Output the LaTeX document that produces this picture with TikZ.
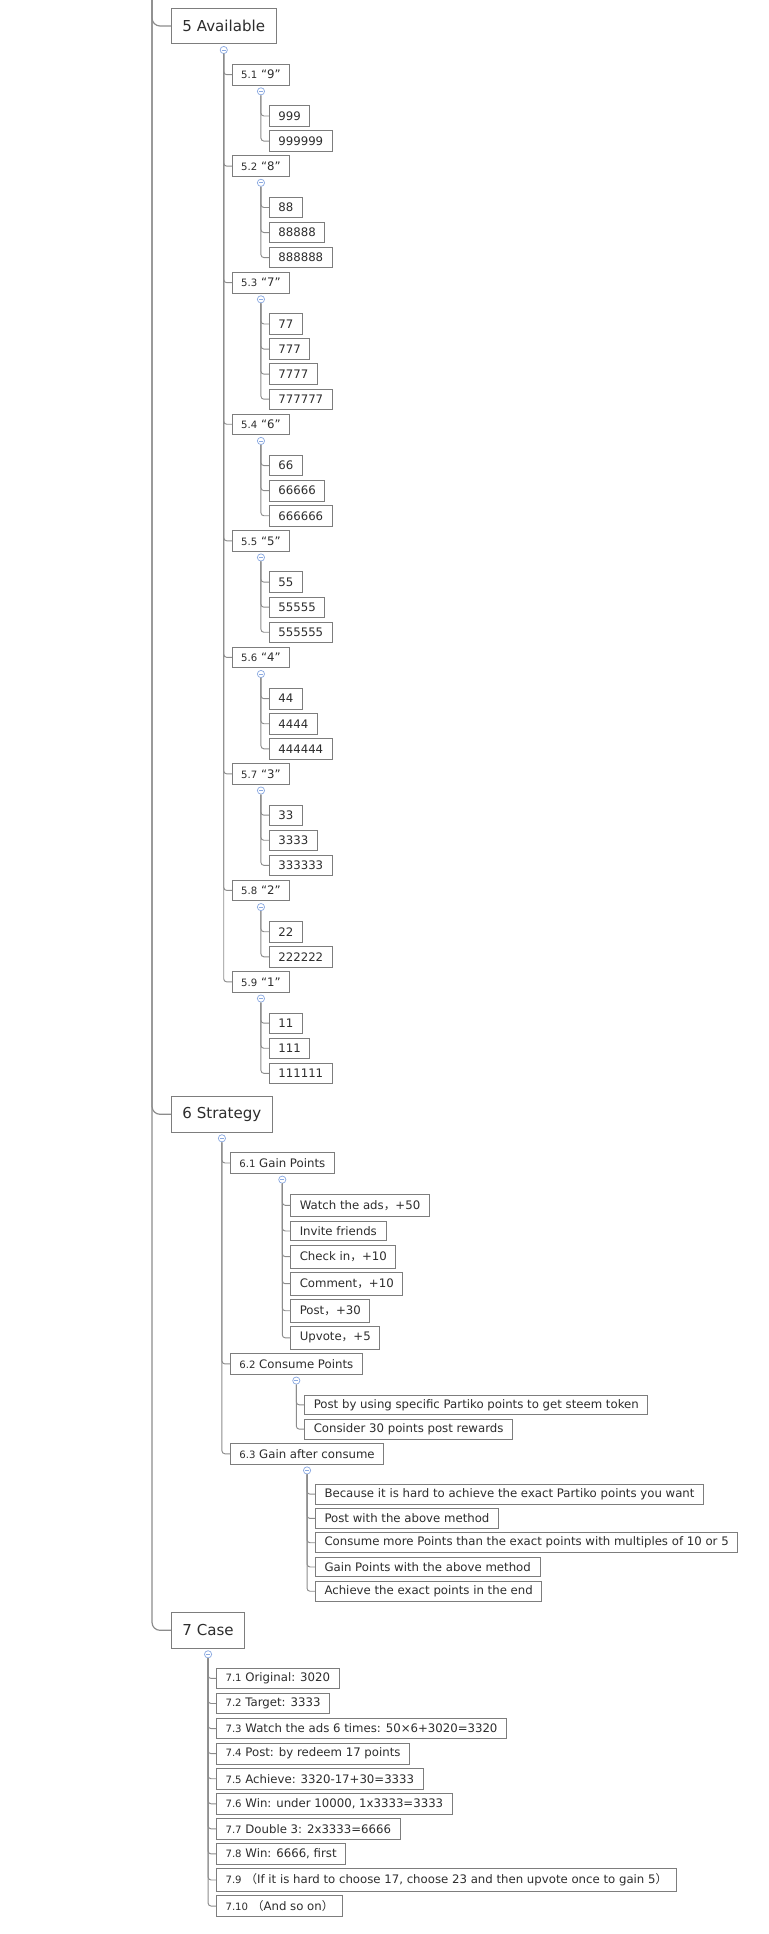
\documentclass[tikz,border=0pt]{standalone}
\usepackage{fontspec}
\setmainfont{DejaVu Sans}
\newfontfamily\cjk{Noto Sans CJK SC}
\usetikzlibrary{positioning}
\definecolor{cLine}{RGB}{140,140,140}
\definecolor{cBorder}{RGB}{125,125,125}
\definecolor{cText}{RGB}{45,45,45}
\definecolor{cFold}{RGB}{140,170,225}
\newcommand{\secno}[1]{{\fontsize{7.6}{9}\selectfont #1}}
\newcommand{\zhcomma}{{\cjk ，}}
\newcommand{\zhlp}{{\cjk （}}
\newcommand{\zhrp}{{\cjk ）}}
\tikzset{
  basebox/.style={rectangle,draw=cBorder,fill=white,text=cText,line width=0.6pt},
  topic/.style={basebox,font=\fontsize{11.3}{13}\selectfont,minimum height=26.4pt,inner xsep=8.3pt},
  sub/.style={basebox,font=\fontsize{8.8}{10}\selectfont,minimum height=15.4pt,inner xsep=6.8pt,inner ysep=1pt},
  leaf/.style={sub},
  slimleaf/.style={sub,minimum height=14.8pt},
  tallleaf/.style={sub,minimum height=16.9pt},
  nextrow/.style={anchor=north west,yshift=-2.8pt},
  edge/.style={draw=cLine,line width=0.7pt,rounded corners=2.2pt},
  trunkline/.style={draw=cLine,line width=0.9pt,rounded corners=6pt},
  fold/.style={circle,draw=cFold,fill=white,line width=0.55pt,minimum size=5.4pt,inner sep=0pt,
               path picture={\draw[cFold,line width=0.5pt]
                 ([xshift=-1.4pt]path picture bounding box.center) --
                 ([xshift=1.4pt]path picture bounding box.center);}}
}
\begin{document}
\begin{tikzpicture}[x=0.75pt,y=-0.75pt]
  \useasboundingbox (0,0) rectangle (768,1934);
  \coordinate (top) at (152,-10);

  % 5 Available
  \node[topic,anchor=west] (avail) at (171,26) {5 Available};
  \node[sub,below right=15pt and 6pt of avail.south] (n51) {\secno{5.1} “9”};
  \node[leaf,below right=15pt and 6pt of n51.south] (n51a) {999};
  \node[leaf,below=2.8pt of n51a.south west,anchor=north west] (n51b) {999999};
  \node[sub,nextrow] (n52) at (n51.west |- n51b.south) {\secno{5.2} “8”};
  \node[leaf,below right=15pt and 6pt of n52.south] (n52a) {88};
  \node[leaf,below=2.8pt of n52a.south west,anchor=north west] (n52b) {88888};
  \node[leaf,below=2.8pt of n52b.south west,anchor=north west] (n52c) {888888};
  \node[sub,nextrow] (n53) at (n51.west |- n52c.south) {\secno{5.3} “7”};
  \node[leaf,below right=15pt and 6pt of n53.south] (n53a) {77};
  \node[leaf,below=2.8pt of n53a.south west,anchor=north west] (n53b) {777};
  \node[leaf,below=2.8pt of n53b.south west,anchor=north west] (n53c) {7777};
  \node[leaf,below=2.8pt of n53c.south west,anchor=north west] (n53d) {777777};
  \node[sub,nextrow] (n54) at (n51.west |- n53d.south) {\secno{5.4} “6”};
  \node[leaf,below right=15pt and 6pt of n54.south] (n54a) {66};
  \node[leaf,below=2.8pt of n54a.south west,anchor=north west] (n54b) {66666};
  \node[leaf,below=2.8pt of n54b.south west,anchor=north west] (n54c) {666666};
  \node[sub,nextrow] (n55) at (n51.west |- n54c.south) {\secno{5.5} “5”};
  \node[leaf,below right=15pt and 6pt of n55.south] (n55a) {55};
  \node[leaf,below=2.8pt of n55a.south west,anchor=north west] (n55b) {55555};
  \node[leaf,below=2.8pt of n55b.south west,anchor=north west] (n55c) {555555};
  \node[sub,nextrow] (n56) at (n51.west |- n55c.south) {\secno{5.6} “4”};
  \node[leaf,below right=15pt and 6pt of n56.south] (n56a) {44};
  \node[leaf,below=2.8pt of n56a.south west,anchor=north west] (n56b) {4444};
  \node[leaf,below=2.8pt of n56b.south west,anchor=north west] (n56c) {444444};
  \node[sub,nextrow] (n57) at (n51.west |- n56c.south) {\secno{5.7} “3”};
  \node[leaf,below right=15pt and 6pt of n57.south] (n57a) {33};
  \node[leaf,below=2.8pt of n57a.south west,anchor=north west] (n57b) {3333};
  \node[leaf,below=2.8pt of n57b.south west,anchor=north west] (n57c) {333333};
  \node[sub,nextrow] (n58) at (n51.west |- n57c.south) {\secno{5.8} “2”};
  \node[leaf,below right=15pt and 6pt of n58.south] (n58a) {22};
  \node[leaf,below=2.8pt of n58a.south west,anchor=north west] (n58b) {222222};
  \node[sub,nextrow] (n59) at (n51.west |- n58b.south) {\secno{5.9} “1”};
  \node[leaf,below right=15pt and 6pt of n59.south] (n59a) {11};
  \node[leaf,below=2.8pt of n59a.south west,anchor=north west] (n59b) {111};
  \node[leaf,below=2.8pt of n59b.south west,anchor=north west] (n59c) {111111};

  % 6 Strategy
  \node[topic,anchor=west] (strat) at (171,1114.3) {6 Strategy};
  \node[sub,below right=15pt and 6pt of strat.south] (n61) {\secno{6.1} Gain Points};
  \node[tallleaf,below right=15pt and 6pt of n61.south] (n61a) {Watch the ads\zhcomma+50};
  \node[slimleaf,below=2.8pt of n61a.south west,anchor=north west] (n61b) {Invite friends};
  \node[tallleaf,below=2.8pt of n61b.south west,anchor=north west] (n61c) {Check in\zhcomma+10};
  \node[tallleaf,below=2.8pt of n61c.south west,anchor=north west] (n61d) {Comment\zhcomma+10};
  \node[tallleaf,below=2.8pt of n61d.south west,anchor=north west] (n61e) {Post\zhcomma+30};
  \node[tallleaf,below=2.8pt of n61e.south west,anchor=north west] (n61f) {Upvote\zhcomma+5};
  \node[sub,nextrow] (n62) at (n61.west |- n61f.south) {\secno{6.2} Consume Points};
  \node[slimleaf,below right=15pt and 6pt of n62.south] (n62a)
      {Post by using specific Partiko points to get steem token};
  \node[slimleaf,below=2.8pt of n62a.south west,anchor=north west] (n62b) {Consider 30 points post rewards};
  \node[sub,nextrow] (n63) at (n61.west |- n62b.south) {\secno{6.3} Gain after consume};
  \node[slimleaf,below right=14.6pt and 6pt of n63.south] (n63a)
      {Because it is hard to achieve the exact Partiko points you want};
  \node[slimleaf,below=2.8pt of n63a.south west,anchor=north west] (n63b) {Post with the above method};
  \node[slimleaf,below=2.8pt of n63b.south west,anchor=north west] (n63c)
      {Consume more Points than the exact points with multiples of 10 or 5};
  \node[slimleaf,below=2.8pt of n63c.south west,anchor=north west] (n63d) {Gain Points with the above method};
  \node[slimleaf,below=2.8pt of n63d.south west,anchor=north west] (n63e) {Achieve the exact points in the end};

  % 7 Case
  \node[topic,anchor=west] (case) at (171,1630.3) {7 Case};
  \node[sub,below right=14.6pt and 6pt of case.south] (n71) {\secno{7.1} Original: 3020};
  \node[sub,below=2.8pt of n71.south west,anchor=north west] (n72) {\secno{7.2} Target: 3333};
  \node[sub,below=2.8pt of n72.south west,anchor=north west] (n73)
      {\secno{7.3} Watch the ads 6 times: 50×6+3020=3320};
  \node[sub,below=2.8pt of n73.south west,anchor=north west] (n74) {\secno{7.4} Post: by redeem 17 points};
  \node[sub,below=2.8pt of n74.south west,anchor=north west] (n75) {\secno{7.5} Achieve: 3320-17+30=3333};
  \node[sub,below=2.8pt of n75.south west,anchor=north west] (n76) {\secno{7.6} Win: under 10000, 1x3333=3333};
  \node[sub,below=2.8pt of n76.south west,anchor=north west] (n77) {\secno{7.7} Double 3: 2x3333=6666};
  \node[sub,below=2.8pt of n77.south west,anchor=north west] (n78) {\secno{7.8} Win: 6666, first};
  \node[tallleaf,below=2.8pt of n78.south west,anchor=north west] (n79)
      {\secno{7.9} \zhlp If it is hard to choose 17, choose 23 and then upvote once to gain 5\zhrp};
  \node[sub,below=2.8pt of n79.south west,anchor=north west] (n710) {\secno{7.10} \zhlp And so on\zhrp};

  % fold markers
  \foreach \p in {avail,n51,n52,n53,n54,n55,n56,n57,n58,n59,strat,n61,n62,n63,case}
    \node[fold] (\p-f) at ([yshift=-4.5pt]\p.south) {};

  % connectors
  \foreach \t in {avail,strat,case}
    \draw[trunkline] (top) |- (\t.west);
  \foreach \i in {1,...,9}
    \draw[edge] (avail-f.south) |- (n5\i.west);
  \foreach \p/\kids in {n51/{a,b},n52/{a,b,c},n53/{a,b,c,d},n54/{a,b,c},n55/{a,b,c},
                        n56/{a,b,c},n57/{a,b,c},n58/{a,b},n59/{a,b,c},
                        n61/{a,b,c,d,e,f},n62/{a,b},n63/{a,b,c,d,e}}
    \foreach \k in \kids
      \draw[edge] (\p-f.south) |- (\p\k.west);
  \foreach \i in {1,2,3}
    \draw[edge] (strat-f.south) |- (n6\i.west);
  \foreach \i in {1,...,10}
    \draw[edge] (case-f.south) |- (n7\i.west);
\end{tikzpicture}
\end{document}
